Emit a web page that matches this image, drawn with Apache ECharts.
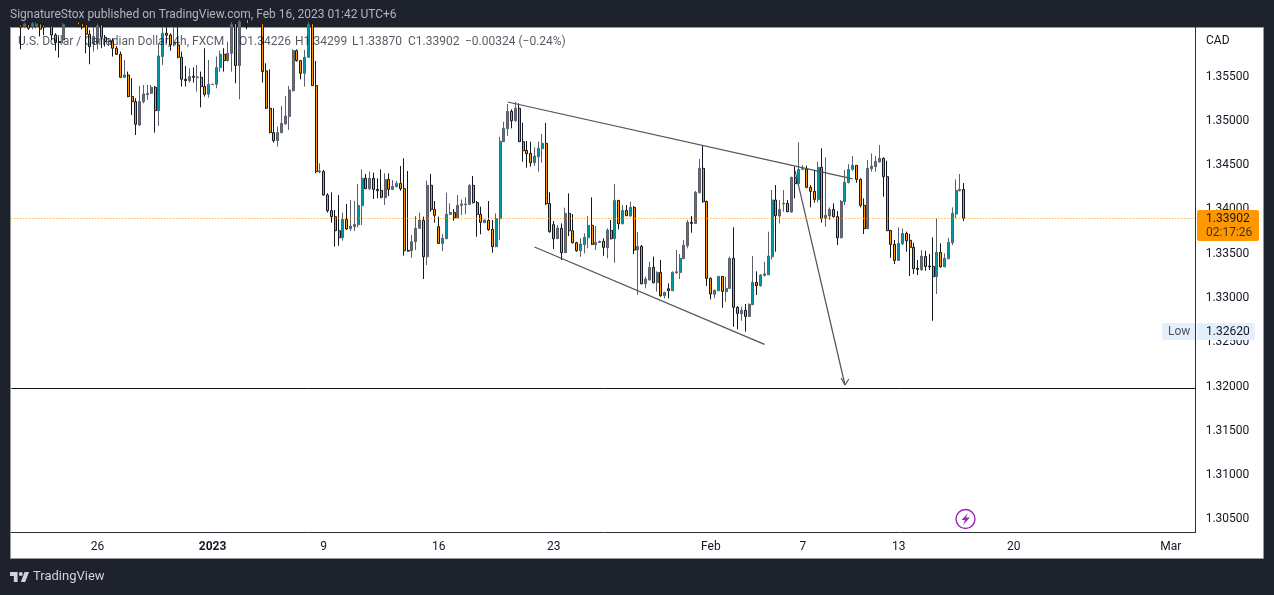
<!DOCTYPE html>
<html lang="en">
<head>
<meta charset="UTF-8">
<title>USDCAD 4h</title>
<script src="https://cdn.jsdelivr.net/npm/echarts@6/dist/echarts.min.js"></script>
<style>
  html, body { margin: 0; padding: 0; background: #1e222d; }
  #chart { width: 1274px; height: 595px; }
</style>
</head>
<body>
<div id="chart"></div>
<script>
const opens = [
1.36085,1.36070,1.36090,1.36072,1.36070,1.36097,1.36085,1.36075,1.36075,1.35972,
1.35897,1.35916,1.36080,1.36130,1.36085,1.36120,1.36100,1.36090,1.35980,1.35871,
1.35878,1.36090,1.35946,1.35897,1.35908,1.35822,1.35754,1.35494,1.35520,1.35276,
1.35219,1.34955,1.35219,1.35298,1.35313,1.35381,1.35117,1.35728,1.35991,1.35972,
1.35859,1.35859,1.35720,1.35471,1.35456,1.35505,1.35490,1.35494,1.35389,1.35302,
1.35411,1.35415,1.35603,1.35754,1.35682,1.35765,1.36100,1.35626,1.36100,1.36150,
1.36100,1.36160,1.36130,1.36100,1.35566,1.35144,1.34869,1.34778,1.34869,1.34967,
1.35050,1.35343,1.35795,1.35682,1.35539,1.35720,1.36100,1.35400,1.34424,1.34428,
1.34164,1.33987,1.33919,1.33760,1.33681,1.33888,1.33783,1.33806,1.33828,1.34043,
1.34352,1.34235,1.34352,1.34227,1.34216,1.34133,1.34340,1.34227,1.34258,1.34295,
1.34235,1.33538,1.33534,1.33636,1.33787,1.33877,1.33466,1.34273,1.34001,1.33806,
1.33617,1.33670,1.33945,1.33967,1.33907,1.34047,1.34054,1.34058,1.34273,1.34077,
1.33945,1.33851,1.33877,1.33775,1.33580,1.33896,1.34766,1.34913,1.35109,1.35003,
1.35143,1.34766,1.34668,1.34634,1.34529,1.34597,1.34687,1.34747,1.34069,1.33828,
1.33670,1.33787,1.33512,1.33956,1.33760,1.33625,1.33534,1.33602,1.33681,1.33821,
1.33602,1.33628,1.33640,1.33568,1.33764,1.33670,1.34103,1.33839,1.33990,1.33926,
1.34024,1.33542,1.33583,1.33161,1.33203,1.33346,1.33173,1.33289,1.33026,1.33105,
1.33082,1.33286,1.33289,1.33444,1.33591,1.33855,1.33843,1.34190,1.34465,1.34092,
1.33222,1.33041,1.33082,1.33244,1.33071,1.33109,1.33448,1.32894,1.32822,1.32860,
1.32792,1.32924,1.33176,1.33139,1.33256,1.33263,1.33467,1.34107,1.33926,1.34062,
1.34069,1.33971,1.34363,1.34292,1.34453,1.34457,1.34250,1.34205,1.34114,1.34476,
1.33900,1.33926,1.34001,1.33919,1.33681,1.34088,1.34303,1.34453,1.34499,1.34340,
1.34047,1.33783,1.34461,1.34484,1.34536,1.34578,1.34371,1.33764,1.33606,1.33425,
1.33613,1.33730,1.33651,1.33572,1.33335,1.33320,1.33470,1.33361,1.33357,1.33241,
1.33516,1.33353,1.33444,1.33625,1.33949,1.34212,1.34226
];
const highs = [
1.36104,1.36110,1.36110,1.36120,1.36115,1.36120,1.36110,1.36125,1.36095,1.35991,
1.35954,1.36110,1.36150,1.36150,1.36150,1.36140,1.36120,1.36120,1.36029,1.36059,
1.36100,1.36110,1.35972,1.35935,1.35935,1.35848,1.35784,1.35690,1.35558,1.35483,
1.35257,1.35396,1.35407,1.35407,1.35407,1.35396,1.35878,1.36059,1.36059,1.35991,
1.36059,1.36059,1.35784,1.35622,1.35596,1.35607,1.35633,1.35558,1.35822,1.35690,
1.35419,1.35728,1.35795,1.35822,1.35897,1.36120,1.36130,1.36140,1.36180,1.36180,
1.36180,1.36190,1.36180,1.36130,1.35652,1.35584,1.35144,1.34937,1.35170,1.35283,
1.35396,1.35810,1.35810,1.35690,1.35803,1.36120,1.36130,1.35679,1.34522,1.34447,
1.34183,1.34194,1.33994,1.34163,1.33964,1.34062,1.34107,1.34099,1.34288,1.34453,
1.34401,1.34427,1.34416,1.34352,1.34453,1.34408,1.34408,1.34333,1.34325,1.34491,
1.34578,1.34435,1.33711,1.33926,1.33964,1.33919,1.34325,1.34401,1.34096,1.33919,
1.33723,1.34190,1.34069,1.34005,1.34163,1.34114,1.34137,1.34284,1.34378,1.34096,
1.34032,1.33885,1.34096,1.33881,1.33956,1.34823,1.34992,1.35192,1.35132,1.35214,
1.35199,1.34981,1.34774,1.34766,1.34702,1.34766,1.34853,1.34977,1.34194,1.33870,
1.33824,1.33843,1.34020,1.34182,1.33949,1.33636,1.33674,1.33730,1.33926,1.34137,
1.33813,1.33647,1.33674,1.33787,1.33881,1.34288,1.34107,1.34050,1.34050,1.34088,
1.34039,1.33745,1.33598,1.33241,1.33410,1.33467,1.33301,1.33429,1.33071,1.33165,
1.33301,1.33542,1.33497,1.33655,1.33881,1.33926,1.34209,1.34570,1.34721,1.34099,
1.33233,1.33097,1.33248,1.33248,1.33241,1.33467,1.33798,1.32909,1.32901,1.32932,
1.32939,1.33474,1.33301,1.33271,1.33410,1.33749,1.34220,1.34276,1.34107,1.34220,
1.34107,1.34371,1.34484,1.34759,1.34502,1.34495,1.34276,1.34438,1.34540,1.34691,
1.34589,1.34024,1.34069,1.33983,1.34107,1.34446,1.34514,1.34604,1.34502,1.34352,
1.34126,1.34559,1.34634,1.34604,1.34728,1.34589,1.34551,1.33768,1.33655,1.33798,
1.33787,1.33749,1.33723,1.33625,1.33429,1.33542,1.33534,1.33497,1.33685,1.33900,
1.33617,1.33504,1.33681,1.34024,1.34340,1.34401,1.34299
];
const lows = [
1.35810,1.36048,1.36029,1.36037,1.36044,1.35954,1.35969,1.36070,1.35916,1.35795,
1.35716,1.35878,1.36075,1.36075,1.36075,1.36059,1.36037,1.35765,1.35641,1.35784,
1.35810,1.35822,1.35841,1.35848,1.35728,1.35746,1.35490,1.35490,1.35268,1.35068,
1.34842,1.34944,1.35200,1.35238,1.35306,1.34869,1.34944,1.35633,1.35878,1.35795,
1.35841,1.35709,1.35389,1.35389,1.35434,1.35434,1.35332,1.35155,1.35276,1.35264,
1.35407,1.35370,1.35558,1.35558,1.35671,1.35558,1.35426,1.35245,1.36075,1.36037,
1.36080,1.36080,1.36075,1.35434,1.35136,1.34861,1.34756,1.34711,1.34861,1.34960,
1.34899,1.35332,1.35671,1.35471,1.35389,1.35716,1.35396,1.34409,1.34409,1.34157,
1.33965,1.33852,1.33580,1.33591,1.33647,1.33768,1.33757,1.33757,1.33798,1.33824,
1.34231,1.34220,1.34118,1.34126,1.34126,1.34050,1.34152,1.34220,1.34250,1.34212,
1.33478,1.33523,1.33455,1.33542,1.33783,1.33214,1.33372,1.33975,1.33851,1.33613,
1.33530,1.33666,1.33937,1.33873,1.33900,1.33937,1.33945,1.34050,1.34069,1.33692,
1.33719,1.33847,1.33760,1.33512,1.33572,1.33655,1.34762,1.34830,1.34917,1.34992,
1.34762,1.34540,1.34472,1.34484,1.34491,1.34427,1.34529,1.34050,1.33738,1.33553,
1.33666,1.33429,1.33508,1.33700,1.33617,1.33523,1.33466,1.33504,1.33561,1.33598,
1.33542,1.33625,1.33478,1.33448,1.33662,1.33399,1.33775,1.33832,1.33926,1.33922,
1.33497,1.33037,1.33154,1.33109,1.33199,1.33165,1.33071,1.33014,1.32996,1.32996,
1.33079,1.33271,1.33214,1.33440,1.33561,1.33738,1.33839,1.34182,1.34077,1.33135,
1.32984,1.32996,1.33079,1.32890,1.32958,1.33101,1.32675,1.32645,1.32743,1.32620,
1.32788,1.32920,1.33033,1.33128,1.33241,1.33259,1.33436,1.33523,1.33843,1.33975,
1.33971,1.33964,1.34126,1.34284,1.34446,1.34239,1.34024,1.34077,1.34081,1.33851,
1.33806,1.33881,1.33911,1.33598,1.33674,1.34050,1.34295,1.34438,1.34303,1.34024,
1.33723,1.33779,1.34427,1.34427,1.34533,1.34145,1.33757,1.33455,1.33384,1.33421,
1.33598,1.33523,1.33248,1.33271,1.33259,1.33308,1.33308,1.33316,1.32743,1.33045,
1.33342,1.33346,1.33436,1.33598,1.33900,1.34205,1.33870
];
const closes = [
1.36059,1.36095,1.36048,1.36100,1.36095,1.36037,1.36059,1.36100,1.35972,1.35886,
1.35886,1.36090,1.36130,1.36090,1.36125,1.36085,1.36060,1.35980,1.35841,1.35954,
1.36075,1.35946,1.35897,1.35908,1.35822,1.35754,1.35494,1.35520,1.35276,1.35219,
1.34963,1.35219,1.35306,1.35313,1.35381,1.35117,1.35735,1.35991,1.35969,1.35859,
1.35886,1.35720,1.35471,1.35456,1.35502,1.35494,1.35498,1.35389,1.35302,1.35415,
1.35415,1.35603,1.35754,1.35682,1.35765,1.36090,1.35626,1.36120,1.36150,1.36100,
1.36160,1.36110,1.36090,1.35558,1.35144,1.34869,1.34778,1.34869,1.34974,1.35057,
1.35351,1.35795,1.35682,1.35539,1.35720,1.36090,1.35400,1.34428,1.34436,1.34164,
1.33987,1.33919,1.33760,1.33681,1.33888,1.33779,1.33813,1.33832,1.34047,1.34352,
1.34235,1.34352,1.34227,1.34212,1.34137,1.34340,1.34227,1.34261,1.34295,1.34235,
1.33534,1.33530,1.33636,1.33787,1.33881,1.33466,1.34273,1.34001,1.33934,1.33617,
1.33674,1.33945,1.33967,1.33907,1.34047,1.34062,1.34062,1.34273,1.34077,1.33945,
1.33854,1.33881,1.33772,1.33580,1.33896,1.34770,1.34917,1.35109,1.35003,1.35143,
1.34766,1.34664,1.34630,1.34529,1.34604,1.34691,1.34747,1.34065,1.33749,1.33670,
1.33790,1.33512,1.33956,1.33760,1.33625,1.33534,1.33610,1.33685,1.33821,1.33606,
1.33628,1.33640,1.33572,1.33768,1.33670,1.34103,1.33839,1.33990,1.33930,1.34024,
1.33542,1.33583,1.33161,1.33214,1.33346,1.33173,1.33289,1.33026,1.33063,1.33082,
1.33289,1.33297,1.33448,1.33595,1.33855,1.33843,1.34194,1.34465,1.34088,1.33222,
1.33045,1.33086,1.33244,1.33075,1.33109,1.33448,1.32894,1.32826,1.32860,1.32792,
1.32928,1.33176,1.33139,1.33259,1.33271,1.33474,1.34107,1.33930,1.34001,1.34069,
1.33975,1.34363,1.34292,1.34453,1.34461,1.34250,1.34205,1.34114,1.34476,1.33900,
1.33934,1.34001,1.33919,1.33681,1.34092,1.34307,1.34453,1.34499,1.34340,1.34047,
1.33783,1.34465,1.34491,1.34544,1.34578,1.34371,1.33760,1.33606,1.33425,1.33617,
1.33730,1.33647,1.33572,1.33331,1.33323,1.33474,1.33357,1.33353,1.33241,1.33516,
1.33353,1.33448,1.33628,1.33956,1.34216,1.34227,1.33902
];

const yTicks = [1.305, 1.31, 1.315, 1.32, 1.325, 1.33, 1.335, 1.34, 1.345, 1.35, 1.355];
const xTickSlots = [22, 52, 81, 111, 141, 182, 206, 231, 261, 302];
const xTickLabels = ['26', '2023', '9', '16', '23', 'Feb', '7', '13', '20', 'Mar'];

const lastPrice = 1.33902;
const lowPrice = 1.32620;
const supportLevel = 1.3198;
const upperTrend = [[129, 1.35215], [219, 1.34345]];
const lowerTrend = [[136, 1.33576], [196, 1.32476]];
const arrowShaft = [[204, 1.34437], [217, 1.32017]];
const arrowHead = [[216, 1.32096], [217, 1.32017], [218, 1.32085]];

const slotCount = 309;
const leadSlots = 2;

const UI_FONT = 'Roboto, "Noto Sans", sans-serif';
const TEXT = '#131722';
const DRAWING = '#50535e';

const categories = Array.from({ length: slotCount }, (_, i) => String(i));
const candles = [];
for (let i = 0; i < leadSlots; i++) candles.push(['-', '-', '-', '-']);
opens.forEach((o, i) => candles.push([o, closes[i], lows[i], highs[i]]));

function drawLine(data) {
  return {
    type: 'line', data: data, symbol: 'none', silent: true, animation: false, z: 4,
    lineStyle: { color: DRAWING, width: 1.2 }
  };
}

function text(x, y, str, color, size) {
  return {
    type: 'text', x: x, y: y + 1, z: 20, silent: true,
    style: {
      text: str, fill: color, font: (size || 12) + 'px ' + UI_FONT, textVerticalAlign: 'middle'
    }
  };
}

const legendColor = 'rgba(19,23,34,0.72)';

const chart = echarts.init(document.getElementById('chart'), null, { renderer: 'canvas' });
chart.setOption({
  animation: false,
  backgroundColor: '#1e222d',
  grid: { left: 11.3, top: 27, width: 1184.4, height: 505 },
  xAxis: {
    type: 'category',
    data: categories,
    axisLine: { lineStyle: { color: '#2a2e39', width: 1 } },
    axisTick: { show: false },
    splitLine: { show: false },
    axisLabel: {
      interval: i => xTickSlots.includes(i),
      margin: 9,
      color: TEXT,
      fontFamily: UI_FONT,
      fontSize: 12,
      formatter: v => {
        const label = xTickLabels[xTickSlots.indexOf(Number(v))];
        return label === '2023' ? '{b|2023}' : label;
      },
      rich: { b: { fontWeight: 'bold', fontSize: 12, fontFamily: UI_FONT, color: TEXT } }
    }
  },
  yAxis: {
    type: 'value',
    position: 'right',
    min: 1.30356,
    max: 1.36062,
    axisLine: { show: true, lineStyle: { color: '#2a2e39', width: 1 } },
    axisTick: { show: false },
    splitLine: { show: false },
    axisLabel: {
      customValues: yTicks,
      margin: 10,
      padding: [2, 0, 0, 0],
      color: TEXT,
      fontFamily: UI_FONT,
      fontSize: 12,
      formatter: v => v.toFixed(5)
    }
  },
  series: [
    {
      type: 'candlestick',
      data: candles,
      barWidth: 2.5,
      clip: true,
      z: 3,
      itemStyle: {
        color: '#0097a7', borderColor: '#5d606b',
        color0: '#ff9800', borderColor0: '#131722',
        borderWidth: 1
      },
      markLine: {
        silent: true,
        symbol: 'none',
        precision: 5,
        animation: false,
        label: { show: false },
        data: [
          { yAxis: lastPrice, lineStyle: { color: '#ff9800', width: 1, type: [1, 2], opacity: 1 } },
          { yAxis: supportLevel, lineStyle: { color: '#131722', width: 1, type: 'solid', opacity: 1 } }
        ]
      }
    },
    drawLine(upperTrend),
    drawLine(lowerTrend),
    drawLine(arrowShaft),
    drawLine(arrowHead)
  ],
  graphic: [
    { type: 'rect', z: -1, silent: true, shape: { x: 10.5, y: 27.5, width: 1253, height: 531 },
      style: { fill: '#ffffff', stroke: '#9598a1', lineWidth: 1 } },

    text(10, 14, 'SignatureStox published on TradingView.com, Feb 16, 2023 01:42 UTC+6', '#b2b5be'),

    text(18, 41, 'U.S. Dollar / Canadian Dollar, 4h, FXCM', legendColor),
    text(239, 41, 'O1.34226', legendColor),
    text(295, 41, 'H1.34299', legendColor),
    text(352, 41, 'L1.33870', legendColor),
    text(408, 41, 'C1.33902', legendColor),
    text(465, 41, '\u22120.00324 (\u22120.24%)', legendColor),

    text(1206, 40, 'CAD', TEXT),

    { type: 'rect', z: 18, silent: true, shape: { x: 1197, y: 210, width: 62, height: 31, r: 2 },
      style: { fill: '#ff9800' } },
    text(1206, 218, lastPrice.toFixed(5), TEXT),
    text(1206, 232, '02:17:26', 'rgba(19,23,34,0.8)'),

    { type: 'rect', z: 18, silent: true, shape: { x: 1162, y: 323, width: 33, height: 17, r: 2 },
      style: { fill: '#e3effd' } },
    { type: 'rect', z: 18, silent: true, shape: { x: 1197, y: 323, width: 58, height: 17, r: 2 },
      style: { fill: '#e3effd' } },
    text(1168, 331, 'Low', '#50535e'),
    text(1206, 331, lowPrice.toFixed(5), TEXT),

    { type: 'circle', z: 18, silent: true, shape: { cx: 965.5, cy: 519, r: 9.5 },
      style: { fill: '#ffffff', stroke: '#9c27b0', lineWidth: 1.4 } },
    { type: 'polygon', z: 19, silent: true,
      shape: { points: [[968, 513], [961.5, 520], [965, 520], [963, 525], [970, 517.5], [966, 517.5]] },
      style: { fill: '#9c27b0' } },

    { type: 'polygon', z: 19, silent: true,
      shape: { points: [[17.6, 572], [10, 572], [10, 576], [13.8, 576], [13.8, 582], [17.6, 582]] },
      style: { fill: '#d1d4dc' } },
    { type: 'polygon', z: 19, silent: true,
      shape: { points: [[25.2, 582], [20.8, 582], [24.6, 572], [29, 572]] },
      style: { fill: '#d1d4dc' } },
    { type: 'circle', z: 19, silent: true, shape: { cx: 20.8, cy: 574, r: 2 },
      style: { fill: '#d1d4dc' } },
    text(33, 576, 'TradingView', '#d1d4dc', 13)
  ]
});
</script>
</body>
</html>
